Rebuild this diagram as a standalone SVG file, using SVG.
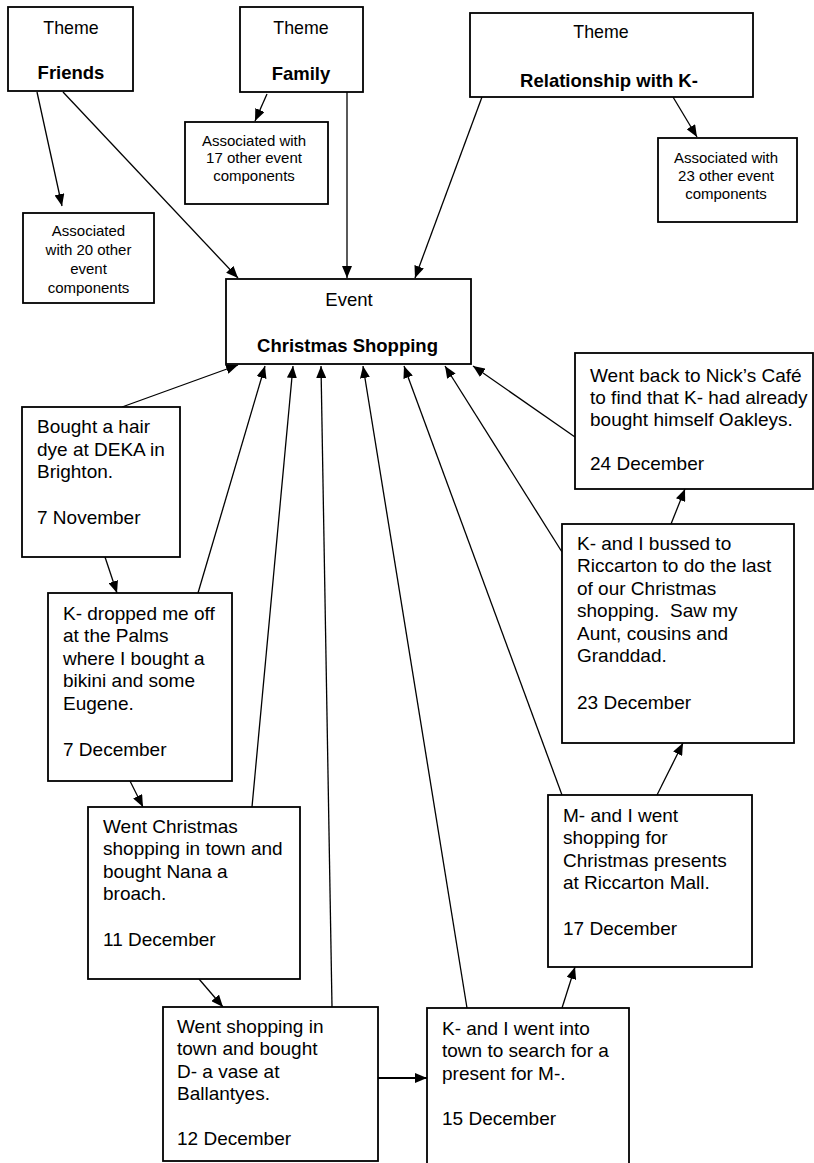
<svg xmlns="http://www.w3.org/2000/svg" width="814" height="1163" viewBox="0 0 814 1163">
<style>
.box{fill:#fff;stroke:#000;stroke-width:1.8}
.th{font-family:"Liberation Sans",Arial,sans-serif;font-size:17.8px;fill:#000;text-anchor:middle}
.tb{font-family:"Liberation Sans",Arial,sans-serif;font-size:18.5px;font-weight:bold;fill:#000;text-anchor:middle}
.sm{font-family:"Liberation Sans",Arial,sans-serif;font-size:15px;fill:#000;text-anchor:middle}
.ev{font-family:"Liberation Sans",Arial,sans-serif;font-size:19px;fill:#000}
.c{stroke:#000;stroke-width:1.3;fill:none;marker-end:url(#ah)}
</style>
<defs>
<marker id="ah" viewBox="0 0 12 10" refX="12" refY="5" markerWidth="12" markerHeight="10" markerUnits="userSpaceOnUse" orient="auto"><path d="M0,0 L12,5 L0,10 z" fill="#000"/></marker>
</defs>
<rect width="814" height="1163" fill="#fff"/>
<g id="connectors">
<line class="c" x1="63" y1="92" x2="238" y2="278"/>
<line class="c" x1="37" y1="92" x2="62" y2="206"/>
<line class="c" x1="267" y1="94" x2="255" y2="121"/>
<line class="c" x1="347" y1="92" x2="347" y2="278"/>
<line class="c" x1="482" y1="97" x2="415" y2="278"/>
<line class="c" x1="673" y1="97" x2="697" y2="137"/>
<line class="c" x1="122" y1="407" x2="238" y2="365"/>
<line class="c" x1="198" y1="593" x2="265" y2="366"/>
<line class="c" x1="252" y1="807" x2="293" y2="366"/>
<line class="c" x1="332" y1="1007" x2="321" y2="366"/>
<line class="c" x1="467" y1="1008" x2="363" y2="366"/>
<line class="c" x1="562" y1="795" x2="404" y2="366"/>
<line class="c" x1="562" y1="552" x2="445" y2="366"/>
<line class="c" x1="575" y1="437" x2="473" y2="366"/>
<line class="c" x1="105" y1="557" x2="117" y2="593"/>
<line class="c" x1="130" y1="781" x2="143" y2="807"/>
<line class="c" x1="199" y1="979" x2="223" y2="1007"/>
<line class="c" x1="373" y1="1078" x2="427" y2="1078" style="stroke-width:2"/>
<line class="c" x1="562" y1="1008" x2="575" y2="967"/>
<line class="c" x1="657" y1="795" x2="683" y2="743"/>
<line class="c" x1="671" y1="524" x2="685" y2="489"/>
</g>
<g id="theme-friends">
<rect class="box" x="8" y="7" width="125" height="84"/>
<text class="th" x="71" y="34">Theme</text>
<text class="tb" x="71" y="78.5">Friends</text>
</g>
<g id="theme-family">
<rect class="box" x="240" y="7" width="123" height="85"/>
<text class="th" x="301" y="34">Theme</text>
<text class="tb" x="301" y="79.5">Family</text>
</g>
<g id="theme-relationship">
<rect class="box" x="470" y="13" width="283" height="84"/>
<text class="th" x="601" y="38">Theme</text>
<text class="tb" x="609" y="86.5">Relationship with K-</text>
</g>
<g id="assoc-17">
<rect class="box" x="185" y="122" width="143" height="82"/>
<text class="sm" x="254" y="145.5">Associated with</text>
<text class="sm" x="254" y="163">17 other event</text>
<text class="sm" x="254" y="180.5">components</text>
</g>
<g id="assoc-20">
<rect class="box" x="23" y="213" width="131" height="90"/>
<text class="sm" x="88.5" y="235.5">Associated</text>
<text class="sm" x="88.5" y="254.5">with 20 other</text>
<text class="sm" x="88.5" y="273.5">event</text>
<text class="sm" x="88.5" y="292.5">components</text>
</g>
<g id="assoc-23">
<rect class="box" x="658" y="138" width="139" height="84"/>
<text class="sm" x="726" y="162.5">Associated with</text>
<text class="sm" x="726" y="180.5">23 other event</text>
<text class="sm" x="726" y="198.5">components</text>
</g>
<g id="event">
<rect class="box" x="226" y="279" width="245" height="85"/>
<text class="th" x="349" y="305.5" style="font-size:18.5px">Event</text>
<text class="tb" x="347.5" y="351.5">Christmas Shopping</text>
</g>
<g id="ev-7nov">
<rect class="box" x="22" y="407" width="158" height="150"/>
<text class="ev" x="37" y="433">Bought a hair</text>
<text class="ev" x="37" y="455.5">dye at DEKA in</text>
<text class="ev" x="37" y="478">Brighton.</text>
<text class="ev" x="37" y="524">7 November</text>
</g>
<g id="ev-7dec">
<rect class="box" x="48" y="593" width="184" height="188"/>
<text class="ev" x="63" y="619.5">K- dropped me off</text>
<text class="ev" x="63" y="642">at the Palms</text>
<text class="ev" x="63" y="664.5">where I bought a</text>
<text class="ev" x="63" y="687">bikini and some</text>
<text class="ev" x="63" y="709.5">Eugene.</text>
<text class="ev" x="63" y="756">7 December</text>
</g>
<g id="ev-11dec">
<rect class="box" x="88" y="807" width="212" height="172"/>
<text class="ev" x="103" y="832.5">Went Christmas</text>
<text class="ev" x="103" y="855">shopping in town and</text>
<text class="ev" x="103" y="877.5">bought Nana a</text>
<text class="ev" x="103" y="900">broach.</text>
<text class="ev" x="103" y="945.5">11 December</text>
</g>
<g id="ev-12dec">
<rect class="box" x="163" y="1007" width="215" height="154"/>
<text class="ev" x="177" y="1032.5">Went shopping in</text>
<text class="ev" x="177" y="1055">town and bought</text>
<text class="ev" x="177" y="1077.5">D- a vase at</text>
<text class="ev" x="177" y="1100">Ballantyes.</text>
<text class="ev" x="177" y="1144.5">12 December</text>
</g>
<g id="ev-15dec">
<rect class="box" x="427" y="1008" width="202" height="160"/>
<text class="ev" x="442" y="1034.5">K- and I went into</text>
<text class="ev" x="442" y="1057">town to search for a</text>
<text class="ev" x="442" y="1079.5">present for M-.</text>
<text class="ev" x="442" y="1124.5">15 December</text>
</g>
<g id="ev-17dec">
<rect class="box" x="548" y="795" width="204" height="172"/>
<text class="ev" x="563" y="821.5">M- and I went</text>
<text class="ev" x="563" y="844">shopping for</text>
<text class="ev" x="563" y="866.5">Christmas presents</text>
<text class="ev" x="563" y="889">at Riccarton Mall.</text>
<text class="ev" x="563" y="934.5">17 December</text>
</g>
<g id="ev-23dec">
<rect class="box" x="562" y="524" width="232" height="219"/>
<text class="ev" x="577" y="549.5">K- and I bussed to</text>
<text class="ev" x="577" y="572">Riccarton to do the last</text>
<text class="ev" x="577" y="594.5">of our Christmas</text>
<text class="ev" x="577" y="617">shopping.&#160; Saw my</text>
<text class="ev" x="577" y="639.5">Aunt, cousins and</text>
<text class="ev" x="577" y="662">Granddad.</text>
<text class="ev" x="577" y="709">23 December</text>
</g>
<g id="ev-24dec">
<rect class="box" x="575" y="353" width="238" height="136"/>
<text class="ev" x="590" y="381.5">Went back to Nick’s Café</text>
<text class="ev" x="590" y="403.5">to find that K- had already</text>
<text class="ev" x="590" y="425.5">bought himself Oakleys.</text>
<text class="ev" x="590" y="469.5">24 December</text>
</g>
</svg>
